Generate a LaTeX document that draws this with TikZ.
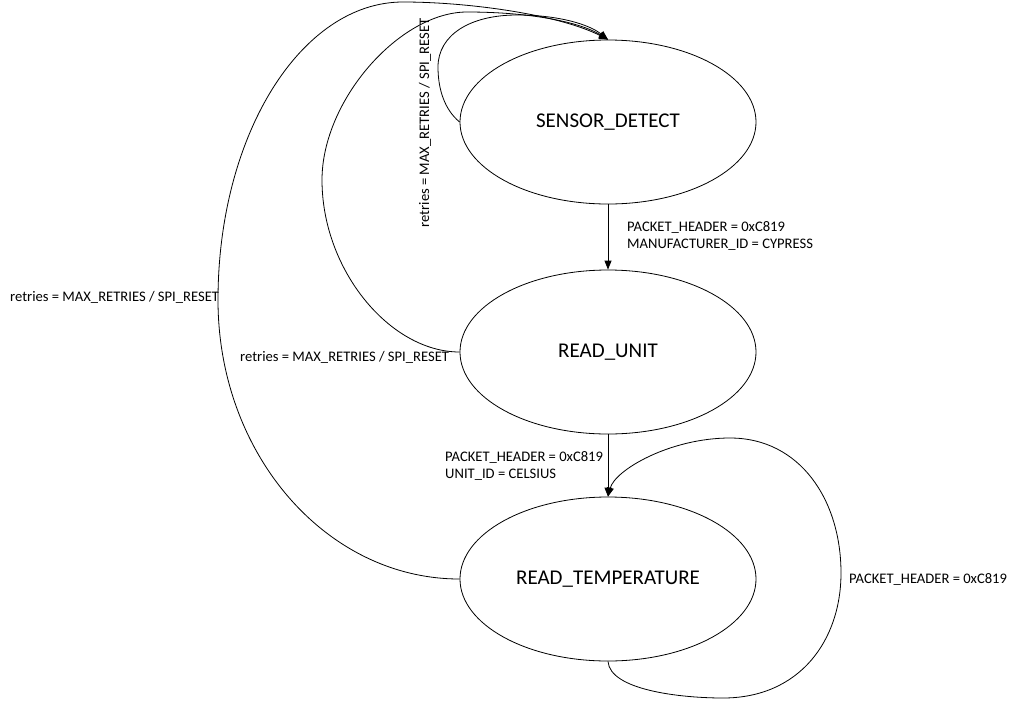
\documentclass[tikz,border=0pt]{standalone}
\usepackage{fontspec}
\setmainfont{Carlito}
\usetikzlibrary{shapes.geometric,arrows.meta}
\begin{document}
\begin{tikzpicture}[x=1pt,y=-1pt,
  state/.style={draw,ellipse,line width=0.8pt,minimum width=296pt,minimum height=164pt,inner sep=0pt,font=\fontsize{21}{25}\selectfont},
  lbl/.style={font=\fontsize{14.6}{17}\selectfont,inner sep=0pt,align=left,anchor=west},
  conn/.style={line width=0.8pt,-{Triangle[length=9pt,width=7pt]}},
  plain/.style={line width=0.8pt}]
\useasboundingbox (0,0) rectangle (1020,702);
\node[state] (sd) at (608,122) {SENSOR\_DETECT};
\node[state] (ru) at (608,352) {READ\_UNIT};
\node[state] (rt) at (608,579) {READ\_TEMPERATURE};

% straight transitions
\draw[conn] (sd.south) -- (ru.north);
\draw[conn] (ru.south) -- (rt.north);
\node[lbl] (l1) at (627,236) {PACKET\_HEADER = 0xC819\\MANUFACTURER\_ID = CYPRESS};
\node[lbl] (l2) at (445,466) {PACKET\_HEADER = 0xC819\\UNIT\_ID = CELSIUS};

% self loop on READ_TEMPERATURE
\draw[conn] (rt.south) .. controls (610,690) and (680,698) .. (723,698)
  .. controls (800,698) and (841,640) .. (841,573)
  .. controls (841,500) and (800,438) .. (730,438)
  .. controls (670,438) and (615,470) .. (rt.north);
\node[lbl] (l3) at (849,579) {PACKET\_HEADER = 0xC819};

% self loop on SENSOR_DETECT
\draw[conn] (sd.west) .. controls (445,110) and (438,90) .. (438,67)
  .. controls (438,35) and (470,15) .. (517,15)
  .. controls (560,15) and (590,25) .. (sd.north);
\node[font=\fontsize{14.6}{17}\selectfont,inner sep=0pt,rotate=90] (l4) at (425,123) {retries = MAX\_RETRIES / SPI\_RESET};

% READ_UNIT -> SENSOR_DETECT
\draw[conn] (ru.west) .. controls (390,352) and (322,270) .. (322,180)
  .. controls (322,100) and (400,12) .. (467,12)
  .. controls (530,12) and (580,22) .. (sd.north);
\node[lbl] (l5) at (240,357) {retries = MAX\_RETRIES / SPI\_RESET};

% READ_TEMPERATURE -> SENSOR_DETECT
\draw[conn] (rt.west) .. controls (326,579) and (218,454) .. (218,300)
  .. controls (218,135) and (301,2) .. (403,2)
  .. controls (470,2) and (560,15) .. (sd.north);
\node[lbl] (l6) at (10,297) {retries = MAX\_RETRIES / SPI\_RESET};
\end{tikzpicture}
\end{document}
